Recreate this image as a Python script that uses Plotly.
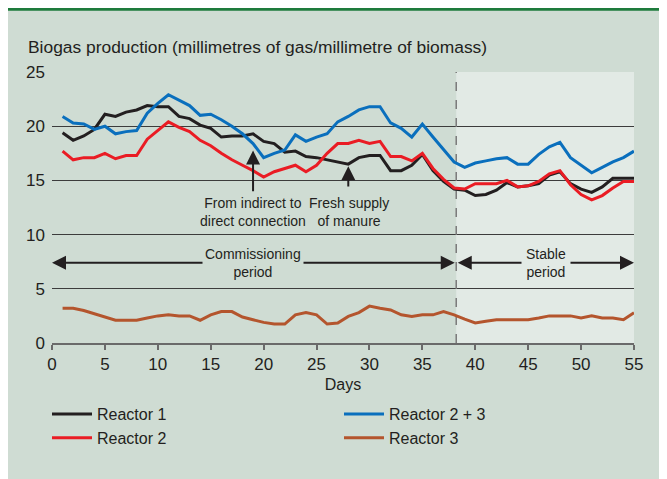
import plotly.graph_objects as go

days = [1, 2, 3, 4, 5, 6, 7, 8, 9, 10, 11, 12, 13, 14, 15, 16, 17, 18, 19, 20,
        21, 22, 23, 24, 25, 26, 27, 28, 29, 30, 31, 32, 33, 34, 35, 36, 37, 38, 39, 40,
        41, 42, 43, 44, 45, 46, 47, 48, 49, 50, 51, 52, 53, 54, 55]

reactor1 = [19.4, 18.7, 19.1, 19.7, 21.1, 20.9, 21.3, 21.5, 21.9, 21.8, 21.8, 20.9, 20.7, 20.1, 19.8,
            19.0, 19.1, 19.1, 19.3, 18.6, 18.4, 17.6, 17.7, 17.2, 17.1, 16.9, 16.7, 16.5, 17.1, 17.3,
            17.3, 15.9, 15.9, 16.4, 17.4, 15.9, 14.9, 14.2, 14.1, 13.6, 13.7, 14.1, 14.8, 14.4, 14.5,
            14.7, 15.5, 15.8, 14.7, 14.2, 13.9, 14.4, 15.2, 15.2, 15.2]

reactor23 = [20.9, 20.3, 20.2, 19.7, 20.0, 19.3, 19.5, 19.6, 21.2, 22.1, 22.9, 22.4, 21.9, 21.0, 21.1,
             20.6, 20.0, 19.3, 18.4, 17.1, 17.5, 17.8, 19.2, 18.6, 19.0, 19.3, 20.4, 20.9, 21.5, 21.8,
             21.8, 20.3, 19.8, 19.0, 20.2, 19.0, 17.8, 16.7, 16.2, 16.6, 16.8, 17.0, 17.1, 16.5, 16.5,
             17.4, 18.1, 18.5, 17.1, 16.4, 15.7, 16.2, 16.7, 17.1, 17.7]

reactor2 = [17.7, 16.9, 17.1, 17.1, 17.5, 17.0, 17.3, 17.3, 18.8, 19.6, 20.4, 19.9, 19.5, 18.7, 18.2,
            17.5, 16.9, 16.4, 15.9, 15.3, 15.8, 16.1, 16.4, 15.8, 16.4, 17.5, 18.4, 18.4, 18.7, 18.4,
            18.6, 17.2, 17.2, 16.8, 17.5, 16.1, 15.1, 14.3, 14.2, 14.7, 14.7, 14.7, 15.0, 14.4, 14.5,
            14.9, 15.6, 15.9, 14.6, 13.7, 13.2, 13.6, 14.3, 14.9, 14.9]

reactor3 = [3.2, 3.2, 3.0, 2.7, 2.4, 2.1, 2.1, 2.1, 2.3, 2.5, 2.6, 2.5, 2.5, 2.1, 2.6,
            2.9, 2.9, 2.4, 2.15, 1.9, 1.75, 1.75, 2.6, 2.8, 2.6, 1.75, 1.85, 2.45, 2.8, 3.4,
            3.2, 3.05, 2.6, 2.45, 2.6, 2.6, 2.9, 2.6, 2.2, 1.85, 2.0, 2.15, 2.15, 2.15, 2.15,
            2.3, 2.5, 2.5, 2.5, 2.3, 2.5, 2.3, 2.3, 2.15, 2.8]

x_ticks = [0, 5, 10, 15, 20, 25, 30, 35, 40, 45, 50, 55]
y_ticks = [0, 5, 10, 15, 20, 25]
boundary_day = 38.2
event_days = [19, 28]

PANEL = "#cfdcd3"
LIGHT = "#e2eae5"
FONT = "Liberation Sans, Arial, sans-serif"
TXT = "#231f20"

fig = go.Figure()
series = [
    ("Reactor 1", reactor1, "#231f20"),
    ("Reactor 2 + 3", reactor23, "#0a6fbd"),
    ("Reactor 2", reactor2, "#ea1c24"),
    ("Reactor 3", reactor3, "#b4552d"),
]
for name, vals, col in series:
    fig.add_trace(go.Scatter(x=days, y=vals, mode="lines", name=name,
                             line=dict(color=col, width=3)))

# paper coordinate helpers, in page (screenshot) pixels; page has 8px body offset
def px(xp):
    return (xp - 52) / 582.0

def py(yp):
    return (343 - yp) / 271.0

shapes = [
    dict(type="rect", xref="x", yref="y", x0=boundary_day, x1=55, y0=0, y1=25,
         fillcolor=LIGHT, line=dict(width=0), layer="below"),
    dict(type="line", xref="x", yref="y", x0=boundary_day, x1=boundary_day, y0=0, y1=25,
         line=dict(color="#7a7a7a", width=1.5, dash="dash"), layer="between"),
    dict(type="line", xref="paper", yref="paper", x0=px(0), x1=px(690), y0=py(9.2), y1=py(9.2),
         line=dict(color="#1e7b3c", width=3), layer="above"),
]

annotations = [
    dict(text="Biogas production (millimetres of gas/millimetre of biomass)",
         xref="paper", yref="paper", x=px(26), y=py(47), xanchor="left", yanchor="middle",
         showarrow=False, font=dict(size=17.4, color=TXT, family=FONT)),
    # event arrows
    dict(text="", xref="x", yref="y", axref="x", ayref="y",
         x=event_days[0], y=17.75, ax=event_days[0], ay=13.85,
         showarrow=True, arrowhead=2, arrowsize=1.4, arrowwidth=2, arrowcolor=TXT, standoff=0),
    dict(text="", xref="x", yref="y", axref="x", ayref="y",
         x=event_days[1], y=16.3, ax=event_days[1], ay=14.3,
         showarrow=True, arrowhead=2, arrowsize=1.4, arrowwidth=2, arrowcolor=TXT, standoff=0),
    dict(text="From indirect to<br>direct connection", xref="x", yref="paper",
         x=event_days[0], y=py(212), xanchor="center", yanchor="middle", showarrow=False,
         font=dict(size=14, color=TXT, family=FONT)),
    dict(text="Fresh supply<br>of manure", xref="x", yref="paper",
         x=event_days[1] + 0.1, y=py(212), xanchor="center", yanchor="middle", showarrow=False,
         font=dict(size=14, color=TXT, family=FONT)),
    # period arrows
    dict(text="", xref="x", yref="y", axref="x", ayref="y",
         x=0, y=7.4, ax=boundary_day, ay=7.4, arrowside="end+start",
         showarrow=True, arrowhead=2, arrowsize=1.4, arrowwidth=2, arrowcolor=TXT, standoff=0, startstandoff=0),
    dict(text="", xref="x", yref="y", axref="x", ayref="y",
         x=55, y=7.4, ax=boundary_day, ay=7.4, arrowside="end+start",
         showarrow=True, arrowhead=2, arrowsize=1.4, arrowwidth=2, arrowcolor=TXT, standoff=0, startstandoff=0),
    dict(text="Commissioning<br>period", xref="x", yref="y", x=19, y=7.4,
         xanchor="center", yanchor="middle", showarrow=False, bgcolor=PANEL, borderpad=2,
         font=dict(size=14, color=TXT, family=FONT)),
    dict(text="Stable<br>period", xref="x", yref="y", x=46.7, y=7.4,
         xanchor="center", yanchor="middle", showarrow=False, bgcolor=LIGHT, borderpad=4,
         font=dict(size=14, color=TXT, family=FONT)),
]

fig.update_layout(
    width=667, height=479,
    margin=dict(l=44, r=41, t=64, b=144, autoexpand=False),
    paper_bgcolor=PANEL, plot_bgcolor=PANEL,
    font=dict(family=FONT, color=TXT, size=16),
    shapes=shapes, annotations=annotations,
    showlegend=True,
    legend=dict(orientation="h", x=px(47), y=py(397), xanchor="left", yanchor="top",
                itemwidth=40, entrywidth=237, entrywidthmode="pixels",
                bgcolor="rgba(0,0,0,0)", font=dict(size=16, color=TXT, family=FONT),
                traceorder="normal"),
    xaxis=dict(range=[0, 55], tickvals=x_ticks, showgrid=False, zeroline=False,
               showline=True, linecolor="#6a6a6a", linewidth=1.5,
               ticks="outside", ticklen=5, tickcolor="#6a6a6a", tickwidth=1.5,
               tickfont=dict(size=17, color=TXT, family=FONT),
               title=dict(text="Days", font=dict(size=16, color=TXT, family=FONT), standoff=6)),
    yaxis=dict(range=[0, 25], tickvals=y_ticks, showgrid=True, gridcolor="#3c3c3c", gridwidth=1,
               zeroline=False, showline=False, ticks="", ticklabelstandoff=6,
               tickfont=dict(size=17, color=TXT, family=FONT)),
)

fig.write_html("out.html")
